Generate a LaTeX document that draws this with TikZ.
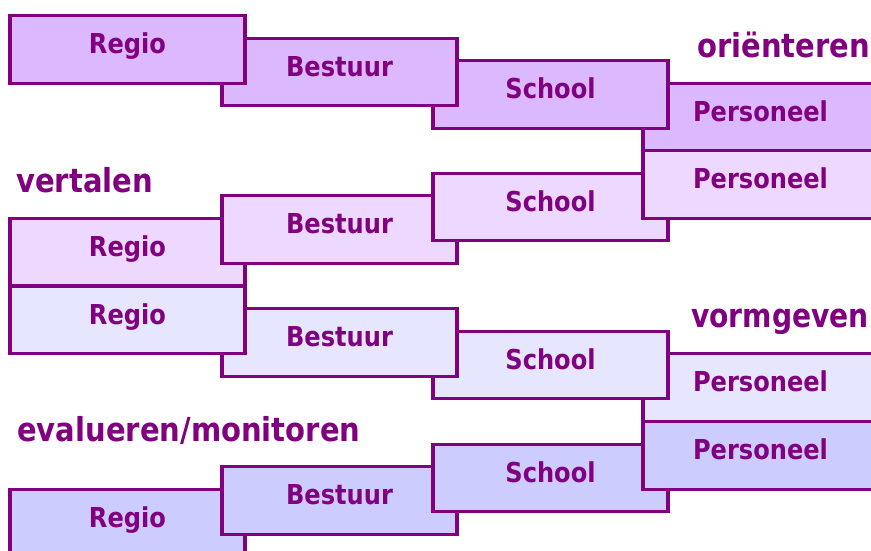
\documentclass[tikz,border=0pt]{standalone}
\usepackage{fontspec}
\setmainfont{DejaVu Sans}[FakeStretch=0.88]
\definecolor{brd}{HTML}{800080}
\definecolor{fa}{HTML}{DCB8FF}
\definecolor{fb}{HTML}{EDD9FF}
\definecolor{fc}{HTML}{E6E6FF}
\definecolor{fd}{HTML}{CCCCFF}
\tikzset{
  boxnode/.style={draw=brd, line width=3.3pt, rectangle, minimum width=235pt, minimum height=67.5pt, inner sep=0pt, anchor=north},
  boxtext/.style={text=brd, font=\bfseries\fontsize{27.4}{30}\selectfont, anchor=base, inner sep=0pt},
  phase/.style={text=brd, font=\bfseries\fontsize{33}{36}\selectfont, anchor=base west, inner sep=0pt}
}
\newcommand{\mybox}[5]{%
  \node[boxnode, fill=#4] (#1) at (#2,#3) {};
  \node[boxtext] (#1t) at ([yshift=-39.5pt]#1.north) {#5};
}
\begin{document}
\begin{tikzpicture}[x=1pt,y=-1pt]
\useasboundingbox (0,0) rectangle (871,550);
\clip (0,0) rectangle (871,550);
% group 1
\mybox{p1}{760.5}{81.5}{fa}{Personeel}
\mybox{s1}{550.5}{59}{fa}{School}
\mybox{b1}{339.5}{36.5}{fa}{Bestuur}
\mybox{r1}{127.5}{14}{fa}{Regio}
% group 2
\mybox{r2}{127.5}{216.5}{fb}{Regio}
\mybox{b2}{339.5}{194}{fb}{Bestuur}
\mybox{s2}{550.5}{171.5}{fb}{School}
\mybox{p2}{760.5}{149}{fb}{Personeel}
% group 3
\mybox{p3}{760.5}{352}{fc}{Personeel}
\mybox{s3}{550.5}{329.5}{fc}{School}
\mybox{b3}{339.5}{307}{fc}{Bestuur}
\mybox{r3}{127.5}{284.5}{fc}{Regio}
% group 4
\mybox{r4}{127.5}{487.5}{fd}{Regio}
\mybox{b4}{339.5}{465}{fd}{Bestuur}
\mybox{s4}{550.5}{442.5}{fd}{School}
\mybox{p4}{760.5}{420}{fd}{Personeel}
% phase labels
\node[phase] (l1) at (697,57) {oriënteren};
\node[phase] (l2) at (16,192) {vertalen};
\node[phase, anchor=base east, xscale=0.97] (l3) at (869,327) {vormgeven};
\node[phase] (l4) at (17,441) {evalueren/monitoren};
\end{tikzpicture}
\end{document}
